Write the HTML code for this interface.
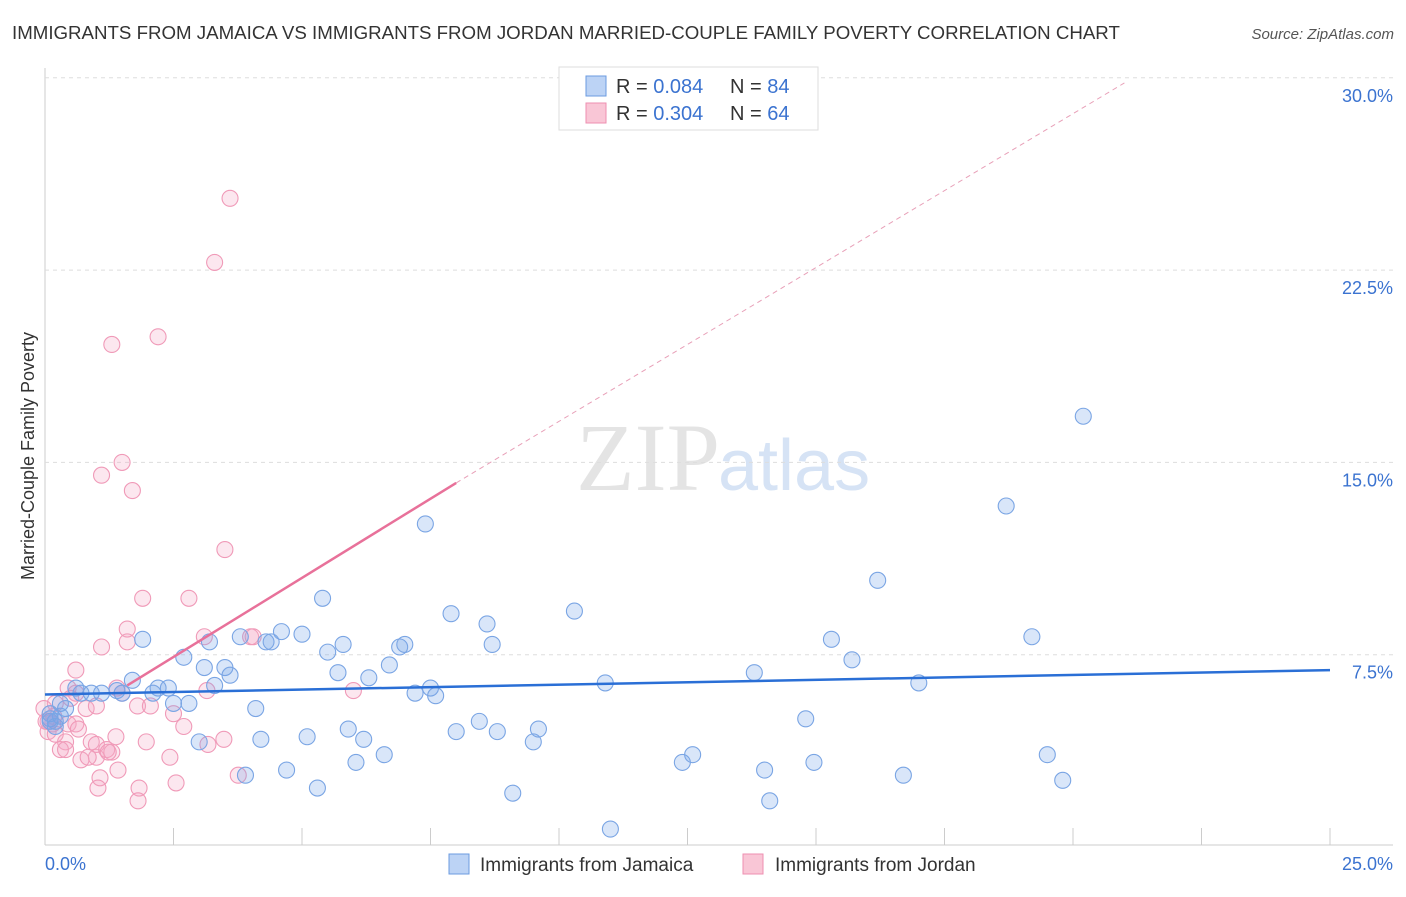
<!DOCTYPE html>
<html><head><meta charset="utf-8"><style>
body{margin:0;background:#fff;font-family:"Liberation Sans",sans-serif}
</style></head><body>
<svg id="c" width="1406" height="892" xmlns="http://www.w3.org/2000/svg">
<text x="12" y="39" font-size="18.7" fill="#333">IMMIGRANTS FROM JAMAICA VS IMMIGRANTS FROM JORDAN MARRIED-COUPLE FAMILY POVERTY CORRELATION CHART</text>
<text x="1394" y="39" font-size="15" fill="#555" font-style="italic" text-anchor="end">Source: ZipAtlas.com</text>
<text x="720" y="490" font-size="96" fill="#e4e4e4" font-family="Liberation Serif,serif" text-anchor="end">ZIP</text>
<text x="718" y="490" font-size="72" fill="#d6e3f5">atlas</text>
<g id="grid"></g><g id="pts"></g><g id="lines"></g>
<text transform="translate(34,456) rotate(-90)" font-size="18" fill="#333" text-anchor="middle">Married-Couple Family Poverty</text>
<text x="45" y="870" font-size="18" fill="#3b73d0">0.0%</text>
<text x="1393" y="870" font-size="18" fill="#3b73d0" text-anchor="end">25.0%</text>
<g>
<rect x="559" y="67" width="259" height="63" fill="#fff" stroke="#ddd"/>
<rect x="586" y="76" width="20" height="20" fill="#bcd3f5" stroke="#6b9be0"/>
<rect x="586" y="103" width="20" height="20" fill="#f9c6d6" stroke="#ee8fb0"/>
<text x="616" y="93" font-size="20" fill="#333">R = <tspan fill="#3b73d0">0.084</tspan></text>
<text x="730" y="93" font-size="20" fill="#333">N = <tspan fill="#3b73d0">84</tspan></text>
<text x="616" y="120" font-size="20" fill="#333">R = <tspan fill="#3b73d0">0.304</tspan></text>
<text x="730" y="120" font-size="20" fill="#333">N = <tspan fill="#3b73d0">64</tspan></text>
</g>
<g>
<rect x="449" y="854" width="20" height="20" fill="#bcd3f5" stroke="#6b9be0"/>
<text x="480" y="871" font-size="19" fill="#333">Immigrants from Jamaica</text>
<rect x="743" y="854" width="20" height="20" fill="#f9c6d6" stroke="#ee8fb0"/>
<text x="775" y="871" font-size="19" fill="#333">Immigrants from Jordan</text>
</g>
</svg>
<script>
const yTicks=[7.5,15,22.5,30];
const xTicks=[0,2.5,5,7.5,10,12.5,15,17.5,20,22.5,25];
const jamX=[20.2,18.7,16.2,19.2,15.3,15.7,17,13.8,10.9,14.8,10.3,8.6,7.9,8.7,7.4,5.4,6.9,7,6.7,6.3,5.8,5.5,5.7,5,4.6,4.3,4.4,3.8,3.2,3.1,3.5,3.6,2.7,1.9,1.7,2.2,2.4,2.1,2.5,2.8,3.3,4.1,1.4,1.5,1.1,0.9,0.7,0.6,0.3,0.4,0.1,0.2,0.3,0.1,0.2,7.2,7.5,7.6,5.9,6.2,5.1,4.2,3,3.9,4.7,5.3,6.05,6.6,8,8.45,8.8,9.5,9.6,9.1,11,12.4,12.6,14,14.1,14.96,16.7,19.5,19.8,0.1];
const jamY=[16.8,13.3,10.4,8.2,8.1,7.3,6.4,6.8,6.4,5,9.2,8.7,9.1,7.9,12.6,9.7,7.8,7.9,7.1,6.6,7.9,7.6,6.8,8.3,8.4,8,8,8.2,8,7,7,6.7,7.4,8.1,6.5,6.2,6.2,6,5.6,5.6,6.3,5.4,6.1,6,6,6,6,6.2,5.6,5.4,5,4.9,5.1,5.2,4.7,6,6.2,5.9,4.6,4.2,4.3,4.2,4.1,2.8,3,2.3,3.3,3.6,4.5,4.9,4.5,4.1,4.6,2.1,0.7,3.3,3.6,3,1.8,3.3,2.8,3.6,2.6,4.9];
const jorX=[3.6,3.3,2.2,1.3,1.5,1.1,1.7,3.5,1.9,2.8,1.6,1.1,1.6,3.1,4,4.05,0.6,0.45,0.6,0.5,0.2,0.8,1,1.4,1.5,1.8,2.05,2.5,3.15,2.7,6,0.06,0.15,0.06,0.2,0.45,0.6,0.4,0.3,0.4,0.65,0.9,1,1.0,0.7,0.84,1.2,1.3,1.23,1.38,1.97,2.43,3.17,3.48,1.07,1.42,1.03,1.83,1.81,2.55,3.76,0.17,0.02,-0.02];
const jorY=[25.3,22.8,19.9,19.6,15,14.5,13.9,11.6,9.7,9.7,8.5,7.8,8,8.2,8.2,8.2,6.9,6.2,6,5.8,5.6,5.4,5.5,6.2,6,5.5,5.5,5.2,6.1,4.7,6.1,4.9,4.8,4.5,4.4,4.8,4.8,4.1,3.8,3.8,4.6,4.1,4,3.5,3.4,3.5,3.8,3.7,3.7,4.3,4.1,3.5,4,4.2,2.7,3,2.3,2.3,1.8,2.5,2.8,5.1,4.9,5.4];
const X=v=>45+v*51.4, Y=v=>847-v*25.64;
const NS='http://www.w3.org/2000/svg';
function mk(t,a,p){const e=document.createElementNS(NS,t);for(const k in a)e.setAttribute(k,a[k]);document.getElementById(p).appendChild(e);return e;}
const g='grid';
let ax=mk('line',{x1:45,y1:68,x2:45,y2:845,stroke:'#ccc'},g);


let bx=mk('line',{x1:45,y1:845,x2:1393,y2:845,stroke:'#ccc'},g);


yTicks.forEach(t=>{
 const l=mk('line',{x1:45,y1:Y(t),x2:1393,y2:Y(t),stroke:'#ddd','stroke-dasharray':'4,4'},g);
 
 
 const tx=mk('text',{x:1393,y:Y(t)+24,'font-size':18,fill:'#3b73d0','text-anchor':'end'},g);
 tx.textContent=t.toFixed(1)+'%';
 
 
});
xTicks.forEach(t=>{
 const l=mk('line',{x1:X(t),y1:828,x2:X(t),y2:845,stroke:'#ccc'},g);
 
 
});
function pts(xs,ys,fill,st,name){xs.forEach((x,i)=>{
 const c=mk('circle',{cx:X(x),cy:Y(ys[i]),r:8,fill:fill,stroke:st,'stroke-width':1.1},'pts');
 
 
});}
pts(jorX,jorY,'rgba(244,170,196,0.28)','#f09ab8','jordan-point');
pts(jamX,jamY,'rgba(120,165,232,0.28)','#7aa5e4','jamaica-point');
let b=mk('line',{x1:X(0),y1:Y(5.95),x2:X(25),y2:Y(6.9),stroke:'#2a6fd6','stroke-width':2.5},'lines');


let pd=mk('line',{x1:X(8),y1:Y(14.2),x2:X(21),y2:Y(29.8),stroke:'#e8a0b8','stroke-width':1,'stroke-dasharray':'5,4'},'lines');


let p=mk('line',{x1:X(1.6),y1:Y(6.3),x2:X(8),y2:Y(14.2),stroke:'#e8719a','stroke-width':2.5},'lines');


</script>
</body></html>
